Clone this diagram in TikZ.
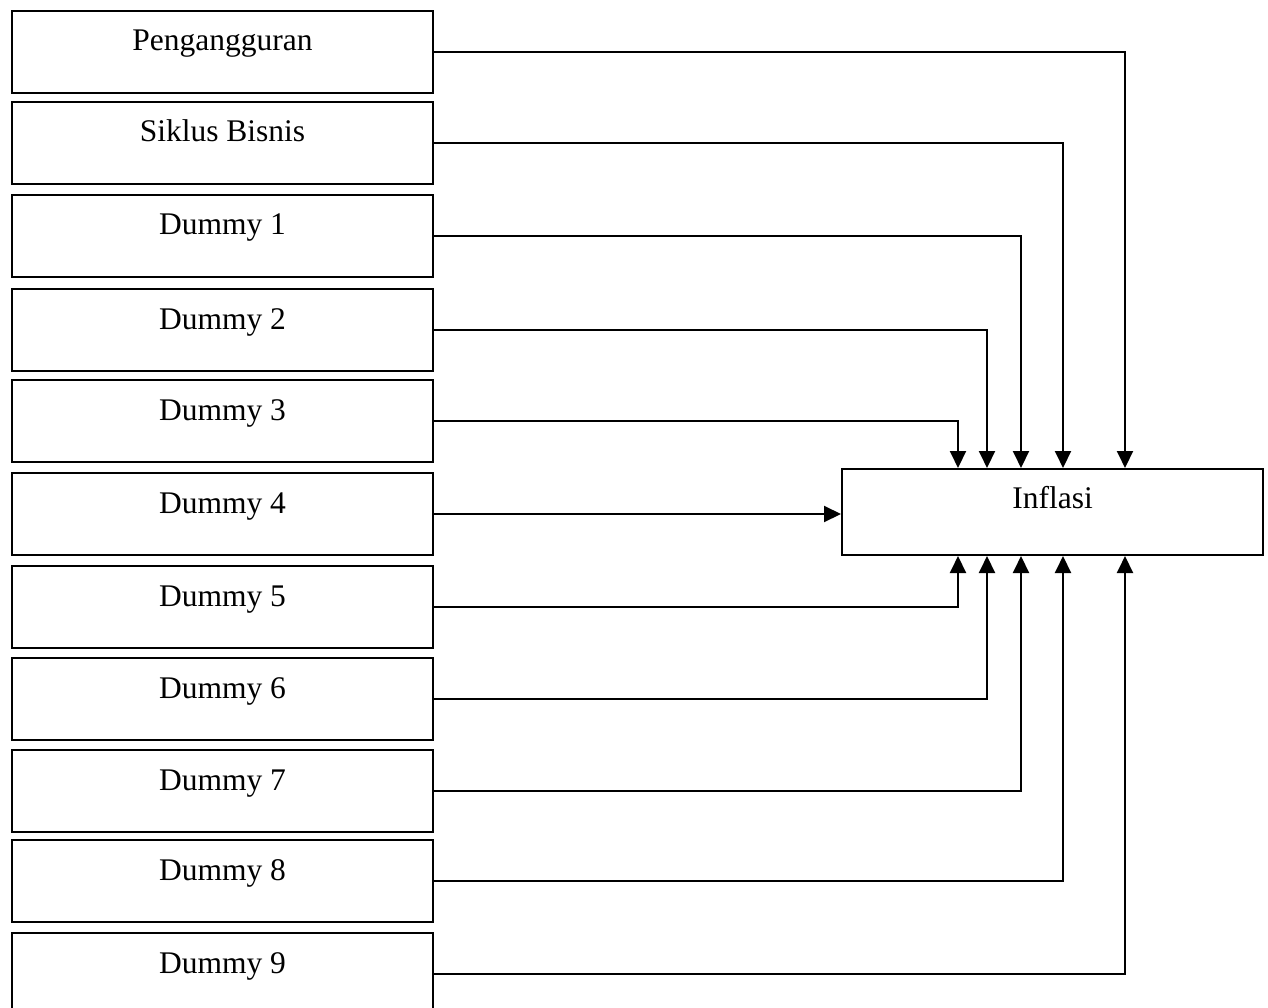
\documentclass[tikz,border=0pt]{standalone}
\usepackage{fontspec}
\setmainfont{Liberation Serif}
\usetikzlibrary{arrows.meta}
\begin{document}
\begin{tikzpicture}[x=1pt,y=-1pt,
  box/.style={draw,line width=2pt,minimum width=421pt,minimum height=82pt,inner sep=0pt,anchor=north west},
  lbl/.style={font=\fontsize{31.5}{36}\selectfont,anchor=base},
  conn/.style={line width=2pt},
  arr/.style={conn,-{Triangle[length=17pt,width=16pt]}}]
\useasboundingbox (0,0) rectangle (1268,1008);
% input boxes on the left
\foreach \n/\y/\t in {1/10/Pengangguran,2/101/Siklus Bisnis,3/194/Dummy 1,4/288/Dummy 2,
  5/379/Dummy 3,6/472/Dummy 4,7/565/Dummy 5,8/657/Dummy 6,9/749/Dummy 7,10/839/Dummy 8,11/932/Dummy 9}{
  \node[box] (b\n) at (11,\y) {};
  \node[lbl] (t\n) at ([yshift=-41pt]b\n.north) {\t};
}
% target box
\node[draw,line width=2pt,minimum width=421pt,minimum height=86pt,inner sep=0pt,anchor=north west] (inf) at (841,468) {};
\node[lbl] (tinf) at ([yshift=-40pt]inf.north) {Inflasi};
% vertical columns of the connectors
\coordinate (c1) at (958,0);
\coordinate (c2) at (987,0);
\coordinate (c3) at (1021,0);
\coordinate (c4) at (1063,0);
\coordinate (c5) at (1125,0);
% connectors from above
\draw[arr] (b1.east) -| (inf.north -| c5);
\draw[arr] (b2.east) -| (inf.north -| c4);
\draw[arr] (b3.east) -| (inf.north -| c3);
\draw[arr] (b4.east) -| (inf.north -| c2);
\draw[arr] (b5.east) -| (inf.north -| c1);
% straight connector
\draw[arr] (b6.east) -- (b6.east -| inf.west);
% connectors from below
\draw[arr] (b7.east) -| (inf.south -| c1);
\draw[arr] (b8.east) -| (inf.south -| c2);
\draw[arr] (b9.east) -| (inf.south -| c3);
\draw[arr] (b10.east) -| (inf.south -| c4);
\draw[arr] (b11.east) -| (inf.south -| c5);
\end{tikzpicture}
\end{document}
